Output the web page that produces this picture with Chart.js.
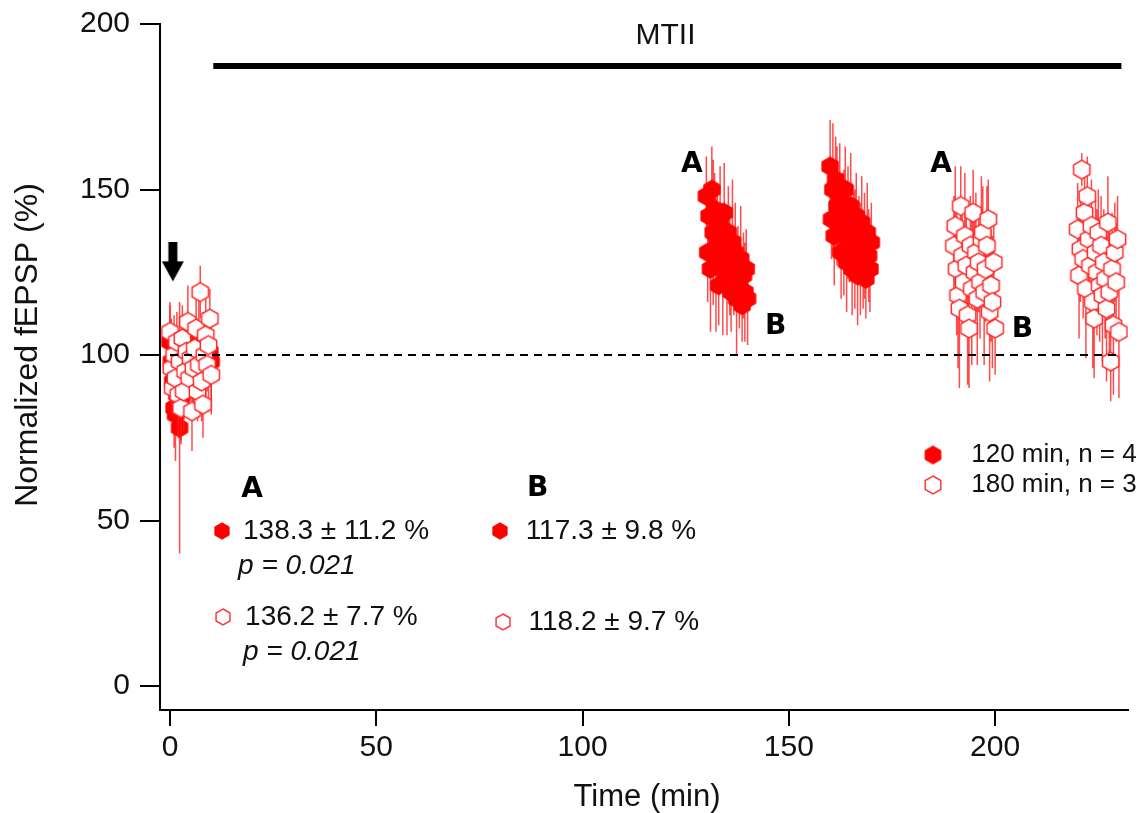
<!DOCTYPE html>
<html>
<head>
<meta charset="utf-8">
<script src="https://cdn.jsdelivr.net/npm/chart.js@4.4.1/dist/chart.umd.min.js"></script>
<style>
  html, body { margin: 0; padding: 0; background: #fff; }
</style>
</head>
<body>
<canvas id="chart" width="1144" height="813"></canvas>
<script>
// sweeps every 20 s
const sampleStep = 1 / 3;

// 120 min group (filled)
const base120Start = 0;
const base120 = [104, 98, 92, 84, 82, 88, 91, 78, 86, 95, 99, 93, 101, 97, 92, 98, 103, 96, 100, 94, 99, 105, 97, 93, 100, 102, 96, 99, 94, 101, 98];
const base120Err = [11, 13, 15, 12, 14, 10, 13, 38, 12, 10, 12, 9, 11, 14, 10, 12, 9, 13, 11, 10, 12, 14, 9, 11, 13, 10, 12, 9, 11, 10, 12];
const late120aStart = 130;
const late120a = [148, 131, 142, 126, 150, 137, 144, 129, 135, 121, 140, 133, 126, 143, 130, 124, 137, 128, 119, 134, 125, 131, 117, 127, 122, 129, 115, 124, 119, 126, 117];
const late120aErr = [12, 15, 10, 19, 13, 22, 11, 22, 14, 12, 17, 13, 20, 15, 11, 18, 14, 16, 12, 19, 13, 15, 17, 12, 14, 16, 11, 13, 15, 12, 14];
const late120bStart = 160;
const late120b = [157, 141, 150, 136, 153, 145, 139, 148, 131, 143, 137, 150, 128, 140, 134, 145, 126, 138, 132, 142, 124, 136, 129, 140, 127, 133, 123, 137, 130, 126, 134];
const late120bErr = [14, 12, 20, 15, 13, 18, 11, 16, 14, 12, 19, 13, 15, 17, 12, 16, 14, 11, 18, 13, 15, 12, 17, 14, 13, 16, 12, 15, 14, 13, 12];

// 180 min group (open)
const base180Start = 0;
const base180 = [107, 96, 90, 100, 93, 104, 88, 98, 84, 105, 89, 95, 101, 110, 93, 99, 83, 96, 102, 108, 89, 97, 119, 92, 85, 100, 106, 97, 103, 111, 94];
const base180Err = [9, 11, 8, 12, 10, 9, 13, 8, 11, 10, 12, 9, 8, 11, 10, 9, 12, 10, 8, 11, 9, 10, 8, 12, 10, 9, 11, 8, 10, 9, 12];
const late180aStart = 190;
const late180a = [133, 139, 126, 118, 114, 145, 130, 122, 136, 127, 112, 108, 133, 120, 143, 125, 131, 117, 128, 122, 135, 137, 119, 126, 133, 141, 113, 121, 116, 128, 108];
const late180aErr = [15, 18, 20, 22, 24, 12, 16, 14, 19, 17, 21, 18, 15, 23, 13, 16, 18, 20, 15, 17, 19, 14, 22, 16, 18, 12, 21, 17, 20, 15, 14];
const late180bStart = 220;
const late180b = [138, 124, 132, 156, 129, 143, 120, 148, 135, 127, 139, 116, 111, 131, 125, 137, 121, 133, 118, 128, 123, 114, 140, 119, 98, 126, 109, 131, 122, 135, 107];
const late180bErr = [14, 19, 16, 5, 18, 13, 21, 12, 15, 17, 14, 20, 18, 16, 19, 13, 17, 15, 20, 16, 18, 22, 14, 19, 12, 17, 21, 15, 18, 13, 20];

const xTicks = [0, 50, 100, 150, 200];
const yTicks = [0, 50, 100, 150, 200];

const legendLabels = ['120 min, n = 4', '180 min, n = 3'];
const statsA = ['138.3 ± 11.2 %', '136.2 ± 7.7 %'];
const statsB = ['117.3 ± 9.8 %', '118.2 ± 9.7 %'];
const pValuesA = ['p = 0.021', 'p = 0.021'];

const baselineLevel = 100;
const mtiiStart = 10.5, mtiiEnd = 230.6, mtiiLevel = 187.3;
const arrowTime = 0.7, arrowLevel = 128;

function toPoints(start, values) {
    return values.map((v, i) => ({ x: start + i * sampleStep, y: v }));
}

function toErrorBars(start, values, errs) {
    const out = [];
    values.forEach((v, i) => {
        const x = start + i * sampleStep;
        out.push({ x: x, y: v - errs[i] }, { x: x, y: v + errs[i] }, { x: x, y: null });
    });
    return out;
}

function hexImage(fill, stroke, lw, r) {
    const c = document.createElement('canvas');
    const s = Math.ceil(2 * r + lw + 2);
    c.width = s; c.height = s;
    const g = c.getContext('2d');
    g.beginPath();
    for (let k = 0; k < 6; k++) {
        const a = (60 * k - 90) * Math.PI / 180;
        const px = s / 2 + r * Math.cos(a), py = s / 2 + r * Math.sin(a);
        if (k === 0) g.moveTo(px, py); else g.lineTo(px, py);
    }
    g.closePath();
    g.fillStyle = fill;
    g.fill();
    g.lineWidth = lw;
    g.strokeStyle = stroke;
    g.stroke();
    return c;
}

function arrowImage() {
    const c = document.createElement('canvas');
    c.width = 24; c.height = 40;
    const g = c.getContext('2d');
    g.fillStyle = '#000';
    g.fillRect(7.5, 0, 9, 21);
    g.beginPath();
    g.moveTo(1, 19); g.lineTo(23, 19); g.lineTo(12, 39); g.closePath();
    g.fill();
    return c;
}

const hexFilled = hexImage('#ff0000', '#ff0000', 1, 9.4);
const hexOpen = hexImage('#ffffff', '#ff2a2a', 1.5, 9.4);
const hexFilledLeg = hexImage('#ff0000', '#ff0000', 1, 9);
const hexOpenLeg = hexImage('#ffffff', '#ff3b3b', 1.5, 9);
const hexFilledSmall = hexImage('#ff0000', '#ff0000', 1, 8.2);
const hexOpenSmall = hexImage('#ffffff', '#ff3b3b', 1.5, 8);

const points120 = [].concat(
    toPoints(base120Start, base120), toPoints(late120aStart, late120a), toPoints(late120bStart, late120b));
const errors120 = [].concat(
    toErrorBars(base120Start, base120, base120Err),
    toErrorBars(late120aStart, late120a, late120aErr),
    toErrorBars(late120bStart, late120b, late120bErr));
const points180 = [].concat(
    toPoints(base180Start, base180), toPoints(late180aStart, late180a), toPoints(late180bStart, late180b));
const errors180 = [].concat(
    toErrorBars(base180Start, base180, base180Err),
    toErrorBars(late180aStart, late180a, late180aErr),
    toErrorBars(late180bStart, late180b, late180bErr));

const sans = '"Liberation Sans", Arial, sans-serif';
const heavy = 'bold 28px "DejaVu Sans", sans-serif';

// text placed in data units
const notes = [
    { t: 'MTII', x: 120.1, y: 196.5, font: '30px ' + sans, align: 'center' },
    { t: 'A', x: 126.5, y: 157.4, font: heavy, align: 'center' },
    { t: 'B', x: 146.8, y: 108.5, font: heavy, align: 'center' },
    { t: 'A', x: 186.9, y: 157.4, font: heavy, align: 'center' },
    { t: 'B', x: 206.6, y: 107.6, font: heavy, align: 'center' },
    { t: 'A', x: 19.9, y: 59.2, font: heavy, align: 'center' },
    { t: 'B', x: 89.1, y: 59.5, font: heavy, align: 'center' },
    { t: statsA[0], x: 17.7, y: 46.8, font: '28px ' + sans, align: 'left' },
    { t: pValuesA[0], x: 16.5, y: 36.3, font: 'italic 28px ' + sans, align: 'left' },
    { t: statsA[1], x: 18.2, y: 20.8, font: '28px ' + sans, align: 'left' },
    { t: pValuesA[1], x: 17.7, y: 10.3, font: 'italic 28px ' + sans, align: 'left' },
    { t: statsB[0], x: 86.2, y: 46.8, font: '28px ' + sans, align: 'left' },
    { t: statsB[1], x: 86.9, y: 19.3, font: '28px ' + sans, align: 'left' },
    { t: legendLabels[0], x: 194.2, y: 69.8, font: '26px ' + sans, align: 'left' },
    { t: legendLabels[1], x: 194.2, y: 60.7, font: '26px ' + sans, align: 'left' }
];
const noteMarks = [
    { img: hexFilledSmall, x: 12.6, y: 46.8 },
    { img: hexOpenSmall, x: 12.8, y: 20.8 },
    { img: hexFilledSmall, x: 80.1, y: 46.8 },
    { img: hexOpenSmall, x: 80.6, y: 19.3 },
    { img: hexFilledLeg, x: 185.0, y: 69.8 },
    { img: hexOpenLeg, x: 185.0, y: 60.7 }
];

const annotate = {
    id: 'annotate',
    afterDraw(chart) {
        const { ctx } = chart;
        const sx = chart.scales.x, sy = chart.scales.y;
        ctx.save();
        ctx.textBaseline = 'middle';
        notes.forEach(n => {
            ctx.font = n.font;
            ctx.textAlign = n.align;
            ctx.fillStyle = n.font === heavy ? '#000' : '#111';
            ctx.fillText(n.t, sx.getPixelForValue(n.x), sy.getPixelForValue(n.y));
        });
        noteMarks.forEach(m => {
            const px = Math.round(sx.getPixelForValue(m.x)), py = Math.round(sy.getPixelForValue(m.y));
            ctx.drawImage(m.img, px - m.img.width / 2, py - m.img.height / 2);
        });
        // axis titles
        ctx.fillStyle = '#111';
        ctx.font = '31px ' + sans;
        ctx.textAlign = 'center';
        ctx.fillText('Time (min)', 647, 797);
        ctx.font = '32px ' + sans;
        ctx.translate(28, 345);
        ctx.rotate(-Math.PI / 2);
        ctx.fillText('Normalized fEPSP (%)', 0, 0);
        ctx.restore();
    }
};

new Chart(document.getElementById('chart').getContext('2d'), {
    type: 'scatter',
    data: {
        datasets: [
            {
                label: 'baseline',
                data: [{ x: 0, y: baselineLevel }, { x: mtiiEnd, y: baselineLevel }],
                showLine: true, borderColor: '#000', borderWidth: 2, borderDash: [8, 6],
                pointRadius: 0, order: 0
            },
            {
                label: 'stim',
                data: [{ x: arrowTime, y: arrowLevel }],
                pointStyle: arrowImage(), pointRadius: 10, order: 1
            },
            {
                label: legendLabels[1],
                data: points180,
                pointStyle: hexOpen, pointRadius: 8, order: 2
            },
            {
                label: 'err180',
                data: errors180,
                showLine: true, spanGaps: false, borderColor: 'rgba(255,30,30,0.8)', borderWidth: 1.5,
                pointRadius: 0, order: 3
            },
            {
                label: legendLabels[0],
                data: points120,
                pointStyle: hexFilled, pointRadius: 8, order: 4
            },
            {
                label: 'err120',
                data: errors120,
                showLine: true, spanGaps: false, borderColor: 'rgba(255,30,30,0.8)', borderWidth: 1.5,
                pointRadius: 0, order: 5
            },
            {
                label: 'MTII',
                data: [{ x: mtiiStart, y: mtiiLevel }, { x: mtiiEnd, y: mtiiLevel }],
                showLine: true, borderColor: '#000', borderWidth: 6, borderCapStyle: 'butt',
                pointRadius: 0, order: 6
            }
        ]
    },
    options: {
        responsive: false,
        animation: false,
        devicePixelRatio: 1,
        layout: { padding: { top: 24, right: 16, left: 0, bottom: 0 } },
        plugins: { legend: { display: false }, tooltip: { enabled: false } },
        scales: {
            x: {
                type: 'linear', min: -2.42, max: 232.2,
                afterBuildTicks: s => { s.ticks = xTicks.map(v => ({ value: v })); },
                afterFit: s => { s.height = 103; s.paddingLeft = 0; s.paddingRight = 0; },
                border: { display: true, color: '#000', width: 2 },
                grid: { drawOnChartArea: false, drawTicks: true, tickLength: 16, color: '#000', lineWidth: 2 },
                ticks: { color: '#111', font: { family: sans, size: 30 }, padding: 4, maxRotation: 0 }
            },
            y: {
                type: 'linear', min: -7.25, max: 200,
                afterBuildTicks: s => { s.ticks = yTicks.map(v => ({ value: v })); },
                afterFit: s => { s.width = 160; s.paddingTop = 0; s.paddingBottom = 0; },
                border: { display: true, color: '#000', width: 2 },
                grid: { drawOnChartArea: false, drawTicks: true, tickLength: 20, color: '#000', lineWidth: 2 },
                ticks: { color: '#111', font: { family: sans, size: 30 }, padding: 10 }
            }
        }
    },
    plugins: [annotate]
});
</script>
</body>
</html>
